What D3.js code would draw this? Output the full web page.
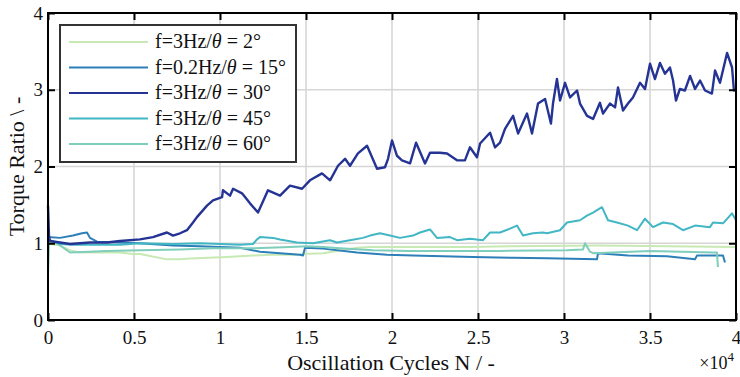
<!DOCTYPE html>
<html>
<head>
<meta charset="utf-8">
<script src="https://cdn.jsdelivr.net/npm/d3@7"></script>
<style>
  body { margin: 0; background: #fff; }
</style>
</head>
<body>
<div id="chart"></div>
<script>
// cycles N, torque ratio
const s2 = [[0,1.0],[116,0.99],[698,0.97],[1279,0.91],[1860,0.88],[3430,0.88],[4186,0.88],[4942,0.86],[5349,0.86],[6919,0.79],[7674,0.79],[8256,0.80],[10407,0.82],[11919,0.84],[13081,0.85],[14651,0.85],[14826,0.86],[15988,0.87],[17965,0.94],[18721,0.95],[20640,0.95],[24535,0.95],[26860,0.96],[32093,0.97],[40000,0.95]];
const s15 = [[0,1.08],[698,1.07],[1453,1.10],[1977,1.13],[2267,1.14],[2442,1.07],[2849,1.02],[4186,1.01],[5349,1.0],[7267,0.97],[8837,0.96],[10000,0.95],[11163,0.94],[12326,0.89],[13488,0.87],[14651,0.85],[14826,0.84],[14942,0.94],[15988,0.93],[17965,0.88],[19709,0.85],[21221,0.84],[24709,0.82],[27000,0.81],[29012,0.805],[31919,0.79],[31977,0.87],[33721,0.84],[35988,0.83],[37616,0.79],[37733,0.84],[39244,0.84],[39360,0.75]];
const s30 = [[0,1.49],[60,1.08],[116,1.03],[1279,0.99],[2442,1.01],[3430,1.01],[4186,1.03],[5349,1.05],[6100,1.08],[6919,1.14],[7267,1.10],[7674,1.13],[8080,1.17],[8430,1.27],[8660,1.34],[9244,1.49],[9593,1.56],[10120,1.60],[10170,1.69],[10580,1.62],[10760,1.71],[11280,1.65],[11744,1.52],[12210,1.40],[12790,1.69],[13490,1.62],[14070,1.75],[14770,1.71],[15230,1.82],[15930,1.91],[16400,1.82],[16860,2.01],[17270,2.10],[17560,2.01],[18020,2.17],[18550,2.27],[18840,2.12],[19130,1.97],[19590,1.99],[19770,2.10],[20000,2.34],[20290,2.14],[20580,2.08],[21050,2.04],[21400,2.31],[21920,2.04],[22210,2.18],[22790,2.18],[23200,2.17],[23780,2.08],[24240,2.08],[24530,2.25],[24940,2.12],[25120,2.30],[25700,2.44],[25990,2.25],[26280,2.31],[26570,2.49],[27040,2.66],[27330,2.43],[27850,2.69],[28140,2.43],[28490,2.82],[28900,2.88],[29240,2.56],[29360,2.82],[29590,3.14],[29770,2.86],[30060,3.09],[30350,2.90],[30760,2.99],[30930,2.82],[31340,2.66],[31690,2.62],[32090,2.83],[32270,2.69],[32670,2.82],[32970,2.77],[33140,3.03],[33430,2.73],[33720,2.82],[34010,2.90],[34420,3.09],[34710,3.01],[35000,3.34],[35290,3.14],[35580,3.35],[35870,3.21],[36160,3.29],[36340,3.12],[36510,2.86],[36740,3.01],[37030,2.99],[37330,3.18],[37620,3.01],[37910,3.12],[38200,2.99],[38600,2.95],[38780,3.25],[39070,3.09],[39480,3.48],[39770,3.29],[39880,2.99],[40000,3.01]];
const s45 = [[0,1.0],[116,1.04],[698,0.99],[1453,0.98],[4186,0.98],[5349,1.0],[7267,0.99],[8837,1.0],[10000,0.99],[11163,0.98],[11919,0.99],[12151,1.05],[12326,1.08],[13081,1.07],[13488,1.05],[14477,1.01],[15407,1.0],[16395,1.04],[16802,1.01],[17558,1.04],[18314,1.07],[18721,1.10],[19302,1.13],[19884,1.10],[20465,1.07],[21221,1.10],[21628,1.14],[22209,1.18],[22616,1.07],[23372,1.08],[23779,1.04],[24535,1.06],[25291,1.04],[25698,1.14],[26279,1.14],[26860,1.19],[27267,1.23],[27616,1.10],[28198,1.13],[28779,1.14],[29012,1.13],[29767,1.17],[30174,1.27],[30930,1.30],[31337,1.36],[31686,1.40],[32209,1.47],[32558,1.30],[33081,1.27],[33721,1.23],[34244,1.17],[34709,1.32],[35174,1.21],[35756,1.27],[36337,1.25],[36919,1.17],[37616,1.23],[38488,1.21],[38663,1.27],[39244,1.26],[39767,1.39],[40000,1.30]];
const s60 = [[0,0.58],[60,1.02],[523,1.0],[1279,0.88],[3430,0.90],[5349,0.91],[7674,0.92],[9593,0.935],[11919,0.935],[14070,0.95],[15058,0.96],[15988,0.95],[16977,0.935],[18895,0.91],[21000,0.90],[26279,0.90],[30174,0.91],[31105,0.92],[31221,1.0],[31512,0.89],[31686,0.87],[35000,0.90],[38663,0.88],[38895,0.88],[38950,0.69]];

const labels = ["2°", "15°", "30°", "45°", "60°"];
const freqs = ["3Hz", "0.2Hz", "3Hz", "3Hz", "3Hz"];
const colors = ["#c7e9b4", "#2c7fb8", "#253494", "#41b6c4", "#7fcdbb"];
const xTicks = [0, 5000, 10000, 15000, 20000, 25000, 30000, 35000, 40000];
const yTicks = [0, 1, 2, 3, 4];

const FONT = "'Liberation Serif', 'Times New Roman', serif";
const width = 740, height = 377;
const margin = {top: 13, right: 4, bottom: 57, left: 48};

const svg = d3.select("#chart").append("svg")
  .attr("width", width)
  .attr("height", height)
  .attr("font-family", FONT);

const x = d3.scaleLinear().domain([0, 40000]).range([margin.left, width - margin.right]);
const y = d3.scaleLinear().domain([0, 4]).range([height - margin.bottom, margin.top]);

// grid
const grid = svg.append("g").attr("stroke", "#d6d6d6").attr("stroke-width", 1.6);
grid.selectAll("line.gx").data(xTicks.slice(1, -1)).enter().append("line")
  .attr("x1", d => x(d)).attr("x2", d => x(d))
  .attr("y1", y(0)).attr("y2", y(4));
grid.selectAll("line.gy").data(yTicks.slice(1, -1)).enter().append("line")
  .attr("x1", x(0)).attr("x2", x(40000))
  .attr("y1", d => y(d)).attr("y2", d => y(d));

// lines
const line = d3.line().x(d => x(d[0])).y(d => y(d[1]));
const allSeries = [s2, s15, s30, s45, s60];
const order = [0, 1, 4, 3, 2];
order.forEach(i => {
  svg.append("path")
    .datum(allSeries[i])
    .attr("d", line)
    .attr("fill", "none")
    .attr("stroke", colors[i])
    .attr("stroke-width", i == 2 ? 2.4 : 2)
    .attr("stroke-linejoin", "round");
});

// axes
const axBottom = svg.append("g").attr("transform", "translate(0," + y(0) + ")")
  .call(d3.axisBottom(x).tickValues(xTicks).tickSize(-7).tickPadding(11).tickFormat(d => d / 10000));
const axTop = svg.append("g").attr("transform", "translate(0," + y(4) + ")")
  .call(d3.axisTop(x).tickValues(xTicks).tickSize(-7).tickFormat(""));
const axLeft = svg.append("g").attr("transform", "translate(" + x(0) + ",0)")
  .call(d3.axisLeft(y).tickValues(yTicks).tickSize(-7).tickPadding(5).tickFormat(d => d));
const axRight = svg.append("g").attr("transform", "translate(" + x(40000) + ",0)")
  .call(d3.axisRight(y).tickValues(yTicks).tickSize(-7).tickFormat(""));
[axBottom, axTop, axLeft, axRight].forEach(g => {
  g.attr("font-family", FONT).attr("font-size", 19);
  g.select(".domain").remove();
  g.selectAll(".tick line").attr("stroke", "#000").attr("stroke-width", 2);
  g.selectAll(".tick text").attr("fill", "#111");
});

svg.append("rect")
  .attr("x", x(0)).attr("y", y(4))
  .attr("width", x(40000) - x(0)).attr("height", y(0) - y(4))
  .attr("fill", "none").attr("stroke", "#000").attr("stroke-width", 2);

// axis labels
svg.append("text")
  .attr("x", 391).attr("y", 370)
  .attr("text-anchor", "middle")
  .attr("font-size", 22).attr("fill", "#111")
  .text("Oscillation Cycles N / -");

const mult = svg.append("text")
  .attr("x", 734).attr("y", 369)
  .attr("text-anchor", "end")
  .attr("font-size", 18).attr("fill", "#111");
mult.append("tspan").text("×10");
mult.append("tspan").attr("dy", -8).attr("font-size", 13).text("4");

svg.append("text")
  .attr("transform", "translate(24," + ((y(0) + y(4)) / 2) + ") rotate(-90)")
  .attr("text-anchor", "middle")
  .attr("font-size", 22).attr("fill", "#111")
  .text("Torque Ratio \\ -");

// legend
const lg = svg.append("g");
lg.append("rect")
  .attr("x", 60).attr("y", 25).attr("width", 236).attr("height", 137)
  .attr("fill", "#fff").attr("stroke", "#333").attr("stroke-width", 2);
labels.forEach((lab, i) => {
  const yy = 42 + i * 25.5;
  lg.append("line")
    .attr("x1", 69).attr("x2", 148)
    .attr("y1", yy).attr("y2", yy)
    .attr("stroke", colors[i]).attr("stroke-width", 2);
  const t = lg.append("text")
    .attr("x", 155).attr("y", yy + 6)
    .attr("font-size", 20).attr("fill", "#111");
  t.append("tspan").text("f=" + freqs[i] + "/");
  t.append("tspan").attr("font-style", "italic").text("θ");
  t.append("tspan").text(" = " + lab);
});
</script>
</body>
</html>
